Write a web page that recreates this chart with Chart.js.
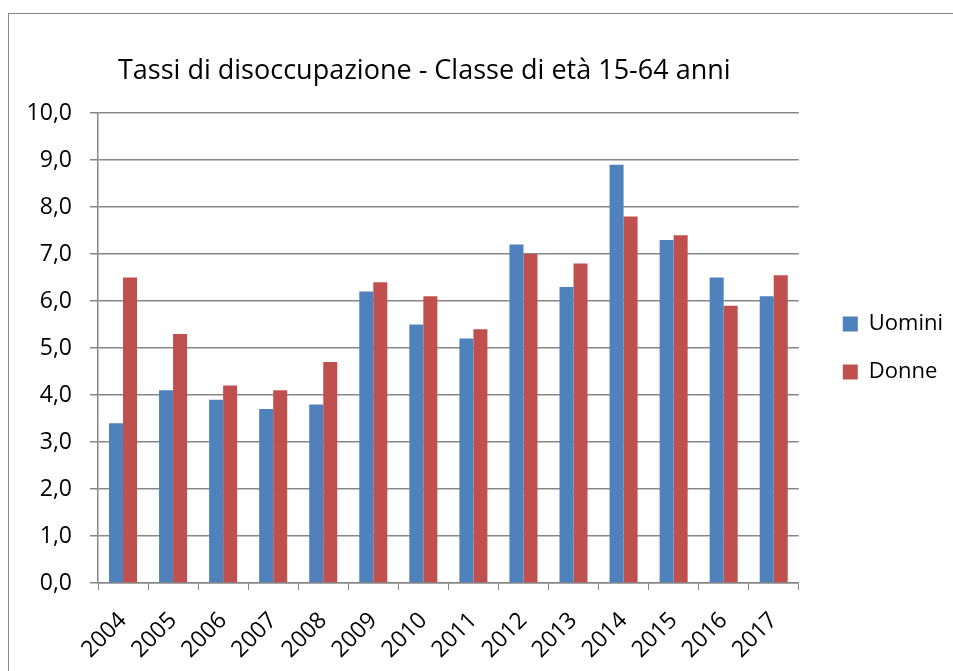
<!DOCTYPE html>
<html>
<head>
<meta charset="utf-8">
<script src="https://cdn.jsdelivr.net/npm/chart.js@4"></script>
<style>
  html, body { margin: 0; padding: 0; background: #fff; }
  #wrap { position: relative; width: 953px; height: 671px; overflow: hidden; }
  #frame {
    position: absolute; left: 8px; top: 13px; width: 1000px; height: 700px;
    border-left: 1.5px solid #888; border-top: 1.5px solid #888;
  }
  canvas { position: absolute; left: 0; top: 0; }
</style>
</head>
<body>
<div id="wrap">
  <div id="frame"></div>
  <canvas id="chart" width="953" height="671"></canvas>
</div>
<script>
/* ===============================
   Data
================================ */
const years = ["2004","2005","2006","2007","2008","2009","2010","2011","2012","2013","2014","2015","2016","2017"];
const uomini = [3.4, 4.1, 3.9, 3.7, 3.8, 6.2, 5.5, 5.2, 7.2, 6.3, 8.9, 7.3, 6.5, 6.1];
const donne  = [6.5, 5.3, 4.2, 4.1, 4.7, 6.4, 6.1, 5.4, 7.0, 6.8, 7.8, 7.4, 5.9, 6.55];
const yTicks = [0, 1, 2, 3, 4, 5, 6, 7, 8, 9, 10];
const chartTitle = "Tassi di disoccupazione - Classe di età 15-64 anni";

const FONT = "'Open Sans', 'Noto Sans', sans-serif";
const AXIS_GREY = "#878787";

/* ===============================
   Title (left aligned, fixed spot)
================================ */
const titlePlugin = {
  id: "leftTitle",
  afterDraw(chart) {
    const ctx = chart.ctx;
    ctx.save();
    ctx.font = "27px " + FONT;
    ctx.fillStyle = "#000";
    ctx.textAlign = "left";
    ctx.textBaseline = "alphabetic";
    ctx.fillText(chartTitle, 118, 79);
    ctx.restore();
  }
};

/* ===============================
   Chart
================================ */
new Chart(document.getElementById("chart"), {
  type: "bar",
  data: {
    labels: years,
    datasets: [
      { label: "Uomini", data: uomini, backgroundColor: "#4F81BD" },
      { label: "Donne",  data: donne,  backgroundColor: "#C0504D" }
    ]
  },
  options: {
    responsive: false,
    animation: false,
    layout: { padding: { top: 113, left: 0, right: 0, bottom: 0 } },
    datasets: {
      bar: { categoryPercentage: 0.56, barPercentage: 1.0 }
    },
    plugins: {
      title: { display: false },
      tooltip: { enabled: false },
      legend: {
        position: "right",
        align: "center",
        fullSize: false,
        labels: {
          boxWidth: 15,
          boxHeight: 15,
          padding: 26,
          color: "#000",
          font: { family: FONT, size: 22 }
        }
      }
    },
    scales: {
      x: {
        grid: {
          offset: true,
          drawOnChartArea: false,
          drawTicks: true,
          tickLength: 7,
          color: AXIS_GREY
        },
        border: { color: AXIS_GREY, width: 1.5 },
        ticks: {
          autoSkip: false,
          maxRotation: 45,
          minRotation: 45,
          padding: 17,
          color: "#000",
          font: { family: FONT, size: 23 }
        },
        afterFit: s => { s.height = 88; }
      },
      y: {
        min: 0,
        max: 10,
        afterBuildTicks: s => { s.ticks = yTicks.map(v => ({ value: v })); },
        grid: { color: AXIS_GREY, lineWidth: 1.5, tickLength: 8 },
        border: { color: AXIS_GREY, width: 1.5 },
        ticks: {
          padding: 18,
          color: "#000",
          font: { family: FONT, size: 23 },
          callback: v => v.toFixed(1).replace(".", ",")
        },
        afterFit: s => { s.width = 98; }
      },
      spacer: {
        type: "linear",
        position: "right",
        grid: { display: false },
        border: { display: false },
        ticks: { display: false },
        afterFit: s => { s.width = 18; }
      }
    }
  },
  plugins: [titlePlugin]
});
</script>
</body>
</html>
